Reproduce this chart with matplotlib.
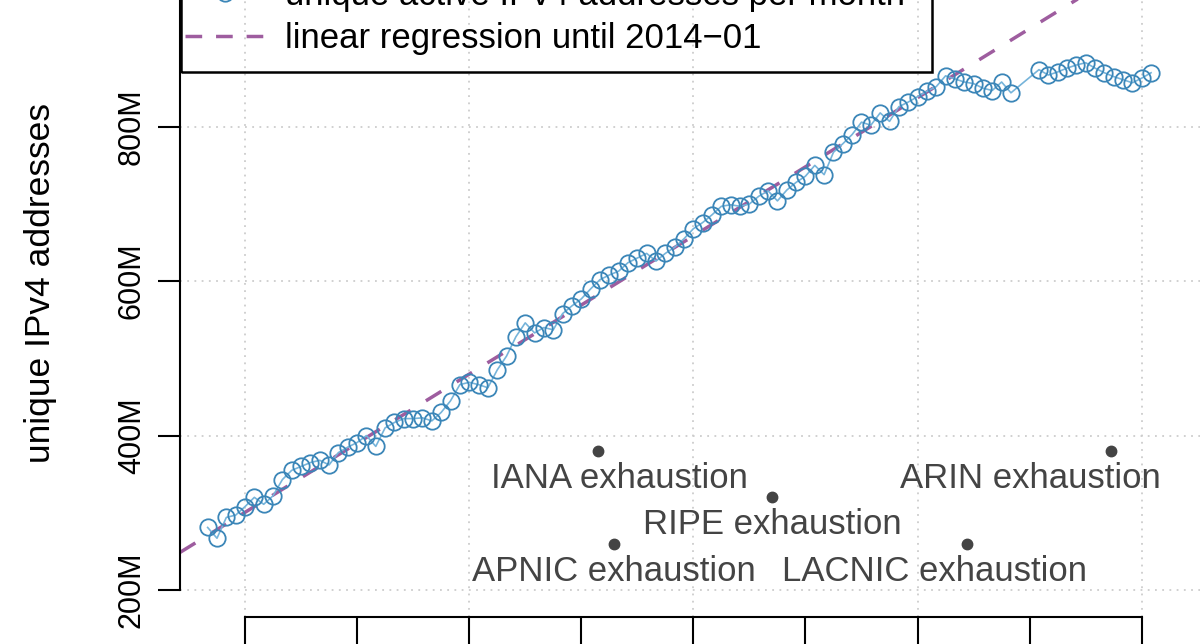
import numpy as np
import pandas as pd
import matplotlib
matplotlib.use("Agg")
import matplotlib.pyplot as plt
from matplotlib.lines import Line2D
from matplotlib.patches import Rectangle

plt.rcParams["font.family"] = ["Liberation Sans", "DejaVu Sans"]

# monthly observations (2014-12 and 2015-01 are missing)
months = list(pd.date_range("2007-09", "2014-11", freq="MS")) + \
         list(pd.date_range("2015-02", "2016-02", freq="MS"))

# unique active IPv4 addresses per month, in millions
active_ips = [
    281, 267, 294, 297, 308, 320, 311, 322, 343, 355,
    360, 365, 368, 362, 378, 385, 391, 400, 386, 410,
    417, 422, 422, 423, 419, 430, 445, 466, 469, 466,
    462, 485, 503, 528, 546, 533, 540, 537, 558, 568,
    577, 590, 602, 608, 613, 624, 630, 636, 626, 636,
    644, 655, 668, 676, 686, 697, 699, 697, 700, 710,
    717, 704, 718, 728, 736, 750, 738, 767, 778, 790,
    806, 802, 818, 807, 826, 832, 839, 846, 852, 866,
    862, 858, 856, 850, 847, 858, 844,
    874, 867, 871, 876, 880, 883, 876, 870, 865, 861, 857, 863, 870,
]
fit_until = 2014.0  # 2014-01

# RIR exhaustion events
event_names = ["IANA", "APNIC", "RIPE", "LACNIC", "ARIN"]
event_dates = [2011.15, 2011.29, 2012.70, 2014.44, 2015.73]
event_levels = [380, 260, 320, 260, 380]
label_x = [2011.34, 2011.29, 2012.70, 2014.15, 2015.01]

y_ticks = [200, 400, 600, 800]
x_ticks = list(range(2008, 2017))
grid_years = [2008, 2010, 2012, 2014, 2016]

x = np.array([m.year + (m.month - 1) / 12 for m in months])
y = np.array(active_ips, dtype=float)
sel = x <= fit_until
slope, icept = np.polyfit(x[sel], y[sel], 1)

W, H = 1200, 644
fig = plt.figure(figsize=(W / 100, H / 100), dpi=100)
ax = fig.add_axes([180 / W, 27 / H, (1200 - 180) / W, (617 + 50) / H])
ax.set_xlim(2007.42, 2016.52)
ax.set_ylim(165, 1029)

line_c = "#76b4da"
edge_c = "#3b86b8"
reg_c = "#9e5d9f"
grid_c = "#cdcdcd"
ann_c = "#444444"

ax.grid(axis="y", color=grid_c, ls=(0, (1, 3)), lw=1.3, zorder=0)
for gx in grid_years:
    ax.axvline(gx, color=grid_c, ls=(0, (1, 3)), lw=1.3, zorder=0)

ax.axline((x[0], icept + slope * x[0]), slope=slope, color=reg_c, lw=2.5,
          dashes=(5.2, 5.2), zorder=2)
ax.plot(x, y, color=line_c, lw=1.2, zorder=3)
ax.plot(x, y, ls="none", marker="o", ms=11.8, mfc="none", mec=edge_c,
        mew=1.3, zorder=4)

ax.plot(event_dates, event_levels, ls="none", marker="o", ms=7.5,
        color=ann_c, zorder=5)
for name, lx, ly in zip(event_names, label_x, event_levels):
    ax.text(lx, ly - 48, f"{name} exhaustion", ha="center", va="baseline",
            fontsize=25, color=ann_c)

for s in ["top", "right"]:
    ax.spines[s].set_visible(False)
ax.spines["left"].set_bounds(200, 1029)
ax.spines["bottom"].set_bounds(2008, 2016)
for s in ["left", "bottom"]:
    ax.spines[s].set_linewidth(1.5)

ax.set_yticks(y_ticks)
ax.set_yticklabels([f"{v}M" for v in y_ticks], rotation=90, va="center")
ax.set_xticks(x_ticks)
ax.tick_params(axis="y", length=15.8, width=1.5, pad=8, labelsize=22)
ax.tick_params(axis="x", length=22, width=1.5, labelbottom=False)

ax.set_ylabel("unique IPv4 addresses", fontsize=25.5)
ax.yaxis.set_label_coords((57 - 180) / 1020, 0.5)

handles = [
    Line2D([], [], color=line_c, lw=1.2, marker="o", ms=11.8, mfc="none",
           mec=edge_c, mew=1.3),
    Line2D([], [], color=reg_c, lw=2.5, dashes=(4.8, 4.0)),
]
labels = ["unique active IPv4 addresses per month",
          "linear regression until 2014\u221201"]
ax.legend(handles, labels, loc="lower left",
          bbox_to_anchor=(185 / W, (644 - 55.4) / H),
          bbox_transform=fig.transFigure, frameon=False, borderpad=0,
          borderaxespad=0, handlelength=2.3, handletextpad=0.58,
          labelspacing=0.3, fontsize=25, numpoints=1)
fig.patches.append(Rectangle((181 / W, (644 - 72) / H), (932 - 181) / W, 0.2,
                             transform=fig.transFigure, fill=False,
                             ec="black", lw=1.8))

fig.savefig("out.png", dpi=100)
